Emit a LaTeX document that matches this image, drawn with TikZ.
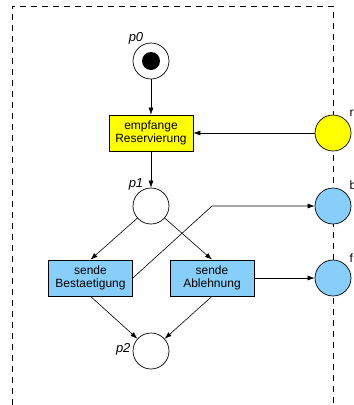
\documentclass[tikz,border=0pt]{standalone}
\usepackage{fontspec}
\setmainfont{Liberation Sans}
\usetikzlibrary{arrows.meta}
\begin{document}
\begin{tikzpicture}[x=1pt,y=-1pt,
  place/.style={circle,draw,line width=0.7pt,minimum size=36pt,inner sep=0pt},
  trans/.style={draw,line width=0.7pt,minimum width=84pt,minimum height=36pt,inner sep=0pt,align=center,font=\fontsize{12}{13.5}\selectfont},
  arc/.style={line width=0.6pt,-{Latex[length=7pt,width=5pt]}},
  plabel/.style={font=\fontsize{13}{13}\selectfont\itshape},
  iflabel/.style={anchor=west,font=\fontsize{12}{12}\selectfont},
  border/.style={dashed,line width=0.7pt,dash pattern=on 6pt off 5pt}]
\definecolor{ryellow}{RGB}{255,255,0}
\definecolor{rblue}{RGB}{135,206,250}
\useasboundingbox (0,0) rectangle (354,405);
% module boundary
\draw[border] (12,405) -- (12,6) -- (333,6) -- (333,405);
% interface places
\node[place,fill=ryellow] (r) at (333,133) {};
\node[place,fill=rblue] (b) at (333,206) {};
\node[place,fill=rblue] (f) at (333,278) {};
\node[iflabel] (rl) at (346,113) {r};
\node[iflabel] (bl) at (346,185) {b};
\node[iflabel] (fl) at (346,258) {f};
% internal places
\node[place,fill=white] (p0) at (151,61) {};
\fill (p0.center) circle (9pt);
\node[place,fill=white] (p1) at (151,206) {};
\node[place,fill=white] (p2) at (151,351) {};
\node[plabel] (p0l) at (136,38) {p0};
\node[plabel] (p1l) at (136,184) {p1};
\node[plabel,anchor=east] (p2l) at (134,349) {p2};
% transitions
\node[trans,fill=ryellow] (t0) at (151,133) {empfange\\Reservierung};
\node[trans,fill=rblue] (t1) at (90.5,278) {sende\\Bestaetigung};
\node[trans,fill=rblue] (t2) at (212,278) {sende\\Ablehnung};
% arcs
\draw[arc] (p0) -- (t0);
\draw[arc] (r) -- (t0);
\draw[arc] (t0) -- (p1);
\draw[arc] (p1) -- (t1.north);
\draw[arc] (p1) -- (t2.north);
\draw[arc] (t1.south) -- (p2);
\draw[arc] (t2.south) -- (p2);
\coordinate (bend) at (212,206);
\draw[arc] (t1.east) -- (bend) -- (b);
\draw[arc] (t2) -- (f);
\end{tikzpicture}
\end{document}
